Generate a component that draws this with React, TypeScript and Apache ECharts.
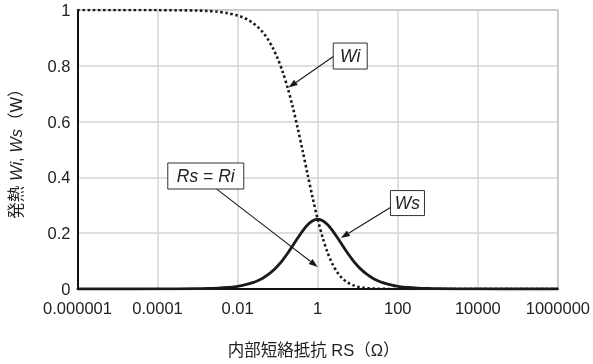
import React, { useEffect, useRef } from "react";
import * as echarts from "echarts";

const rsValues = [
  1e-6, 1e-5, 1e-4, 0.001, 0.00178, 0.00316, 0.00562,
  0.01, 0.01334, 0.01778, 0.02371, 0.03162, 0.04217, 0.05623, 0.07499,
  0.1, 0.1334, 0.1778, 0.2371, 0.3162, 0.4217, 0.5623, 0.7499,
  1, 1.334, 1.778, 2.371, 3.162, 4.217, 5.623, 7.499,
  10, 13.34, 17.78, 23.71, 31.62, 42.17, 56.23, 74.99,
  100, 178, 316, 562, 1000, 1e4, 1e5, 1e6,
];
const wiValues = [
  1.0, 1.0, 0.9998, 0.998, 0.99645, 0.9937, 0.9888,
  0.9803, 0.9738, 0.9654, 0.9542, 0.9396, 0.9207, 0.8964, 0.8653,
  0.8264, 0.7785, 0.7209, 0.6534, 0.5772, 0.4947, 0.4097, 0.3266,
  0.25, 0.1837, 0.1295, 0.088, 0.0577, 0.03674, 0.0228, 0.01384,
  0.00826, 0.004866, 0.002835, 0.001637, 0.00094, 0.000537, 0.000305, 0.000173,
  0.000098, 0.000031, 0.00001, 0.0000032, 0.000001, 0, 0, 0,
];
const wsValues = [
  0.000001, 0.00001, 0.0001, 0.000998, 0.001774, 0.00314, 0.00556,
  0.009803, 0.01299, 0.01716, 0.02262, 0.02971, 0.03883, 0.05041, 0.06489,
  0.08264, 0.1039, 0.1282, 0.1549, 0.1825, 0.2086, 0.2304, 0.2449,
  0.25, 0.2449, 0.2304, 0.2086, 0.1825, 0.1549, 0.1282, 0.1039,
  0.08264, 0.06489, 0.05041, 0.03883, 0.02971, 0.02262, 0.01716, 0.01299,
  0.009803, 0.00556, 0.00314, 0.001774, 0.000998, 0.0001, 0.00001, 0.000001,
];
const xTickLabels = ["0.000001", "0.0001", "0.01", "1", "100", "10000", "1000000"];
const yTickLabels = ["0", "0.2", "0.4", "0.6", "0.8", "1"];

// annotations: box center, arrow start, arrow end (data coords)
const annotations = [
  { text: "{i|Wi}", w: 34, h: 26, box: [6.5, 0.835], from: [2.56, 0.835], to: [0.187, 0.722] },
  { text: "{i|Rs} {n|=} {i|Ri}", w: 76, h: 26, box: [0.0016, 0.405], from: [0.003, 0.358], to: [1, 0.079] },
  { text: "{i|Ws}", w: 34, h: 25, box: [175, 0.308], from: [68.5, 0.294], to: [3.8, 0.183] },
];

const FONT = "'Liberation Sans', Arial, 'Noto Sans CJK JP', sans-serif";

export default function App() {
  const ref = useRef<HTMLDivElement>(null);
  useEffect(() => {
    if (!ref.current) return;
    const chart = echarts.init(ref.current, null, { renderer: "svg" });
    const lineColor = "#1a1a1a";
    chart.setOption({
      animation: false,
      grid: { left: 73, right: 33, top: 10, bottom: 75, show: true, borderColor: "#666", borderWidth: 1 },
      xAxis: {
        type: "log",
        logBase: 100,
        min: 1e-6,
        max: 1e6,
        name: "内部短絡抵抗 RS（Ω）",
        nameLocation: "middle",
        nameGap: 53,
        nameTextStyle: { fontFamily: FONT, fontSize: 16.5, color: "#222", padding: [0, 8, 0, 0] },
        axisLine: { show: true, lineStyle: { color: "#111", width: 2 } },
        axisTick: { show: false },
        axisLabel: {
          margin: 11,
          fontFamily: FONT,
          fontSize: 16.5,
          color: "#222",
          formatter: (_v: number, i: number) => xTickLabels[i] ?? "",
        },
        splitLine: { show: true, lineStyle: { color: "#d4d4d4", width: 1.5 } },
      },
      yAxis: {
        type: "value",
        min: 0,
        max: 1,
        interval: 0.2,
        name: "{n|発熱 }{i|Wi}{n|, }{i|Ws}{n|（W）}",
        nameLocation: "middle",
        nameRotate: 90,
        nameGap: 53,
        nameTextStyle: {
          fontFamily: FONT,
          fontSize: 16.5,
          color: "#222",
          rich: {
            n: { fontFamily: FONT, fontSize: 16.5, color: "#222" },
            i: { fontFamily: FONT, fontSize: 16.5, color: "#222", fontStyle: "italic" },
          },
        },
        axisLine: { show: true, lineStyle: { color: "#111", width: 2 } },
        axisTick: { show: false },
        axisLabel: {
          margin: 7,
          fontFamily: FONT,
          fontSize: 16.5,
          color: "#222",
          formatter: (_v: number, i: number) => yTickLabels[i] ?? "",
        },
        splitLine: { show: true, lineStyle: { color: "#d4d4d4", width: 1.5 } },
      },
      series: [
        {
          name: "Wi",
          type: "line",
          data: rsValues.map((x, i) => [x, wiValues[i]]),
          showSymbol: false,
          smooth: 0.3,
          lineStyle: { color: lineColor, width: 2.6, type: [2.5, 2.6], cap: "butt" },
          z: 3,
        },
        {
          name: "Ws",
          type: "line",
          data: rsValues.map((x, i) => [x, wsValues[i]]),
          showSymbol: false,
          smooth: 0.3,
          lineStyle: { color: lineColor, width: 2.8 },
          z: 4,
        },
      ],
    });

    const elements: any[] = [];
    annotations.forEach((a) => {
      const c = chart.convertToPixel({ gridIndex: 0 }, a.box) as number[];
      const p1 = chart.convertToPixel({ gridIndex: 0 }, a.from) as number[];
      const p2 = chart.convertToPixel({ gridIndex: 0 }, a.to) as number[];
      const ang = Math.atan2(p2[1] - p1[1], p2[0] - p1[0]);
      const L = 9,
        W = 3.2;
      const bx = p2[0] - L * Math.cos(ang),
        by = p2[1] - L * Math.sin(ang);
      const nx = -Math.sin(ang),
        ny = Math.cos(ang);
      elements.push({
        type: "line",
        shape: { x1: p1[0], y1: p1[1], x2: bx, y2: by },
        style: { stroke: "#1a1a1a", lineWidth: 1.1 },
        z: 10,
      });
      elements.push({
        type: "polygon",
        shape: {
          points: [
            [p2[0], p2[1]],
            [bx + nx * W, by + ny * W],
            [bx - nx * W, by - ny * W],
          ],
        },
        style: { fill: "#1a1a1a" },
        z: 10,
      });
      elements.push({
        type: "rect",
        shape: { x: c[0] - a.w / 2, y: c[1] - a.h / 2, width: a.w, height: a.h },
        style: { fill: "#fff", stroke: "#333", lineWidth: 1 },
        z: 11,
      });
      elements.push({
        type: "text",
        x: c[0],
        y: c[1],
        style: {
          text: a.text,
          align: "center",
          verticalAlign: "middle",
          font: `17.5px ${FONT}`,
          fill: "#222",
          rich: {
            i: { fontFamily: FONT, fontSize: 17.5, fontStyle: "italic", fill: "#222" },
            n: { fontFamily: FONT, fontSize: 17.5, fill: "#222" },
          },
        },
        z: 12,
      });
    });
    chart.setOption({ graphic: { elements } });

    return () => chart.dispose();
  }, []);
  return <div ref={ref} style={{ position: "fixed", left: 0, top: 0, width: 593, height: 364 }} />;
}
